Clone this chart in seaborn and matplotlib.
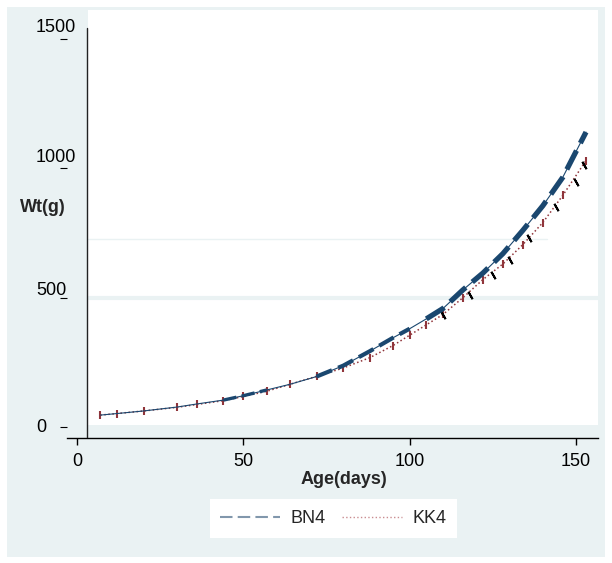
import numpy as np
import pandas as pd
import matplotlib
matplotlib.use("Agg")
import matplotlib.pyplot as plt
from matplotlib.lines import Line2D
from matplotlib.patches import Rectangle
import seaborn as sns

# values
age = [7, 12, 20, 30, 36, 44, 50, 57, 64, 72, 80, 88, 95, 100, 105, 110, 116, 122, 128, 134, 140, 146, 153]
bn4 = [46, 52, 62, 77, 89, 104, 121, 143, 165, 195, 237, 293, 345, 380, 418, 458, 530, 595, 670, 760, 855, 965, 1140]
kk4 = [46, 52, 62, 76, 87, 102, 118, 138, 165, 196, 228, 268, 315, 355, 395, 435, 500, 570, 630, 705, 790, 895, 1030]
mark_age = [110, 118, 125, 130, 136, 144, 150, 152.5]
mark_wt = [433, 510, 588, 646, 731, 851, 947, 1013]
xticks = [0, 50, 100, 150]
yticks = [0, 500, 1000, 1500]
ytick_labels = ["0", "500", "1000", "1500"]
series = ["BN4", "KK4"]

BG = "#EAF2F3"
NAVY = "#1A476F"
RED = "#90353B"
FS = 13

df = pd.DataFrame({"age": age, "BN4": bn4, "KK4": kk4})

sns.set_theme(style="white")
plt.rcParams["font.family"] = ["Liberation Sans", "DejaVu Sans"]

fig = plt.figure(figsize=(6.12, 5.63), dpi=100)
fig.patch.set_facecolor("white")
fig.patches.append(Rectangle((7 / 612, 6 / 563), 598 / 612, 550 / 563,
                             transform=fig.transFigure, facecolor=BG,
                             edgecolor="none", zorder=-10))

ax = fig.add_axes([67 / 612, 125 / 563, 531 / 612, 428 / 563])
ax.set_facecolor(BG)
ax.add_patch(Rectangle((21 / 531, 13 / 428), 510 / 531, 415 / 428,
                       transform=ax.transAxes, facecolor="white",
                       edgecolor="none", zorder=0.5))
ax.axhline(500, xmin=21 / 531, xmax=1, color=BG, lw=3, zorder=1)
ax.axhline(727, xmin=21 / 531, xmax=480 / 531, color=BG, lw=1, zorder=1)

# KK4
sns.lineplot(data=df, x="age", y="KK4", ax=ax, color=RED, lw=1.1,
             linestyle=":", marker="|", markersize=6,
             markeredgewidth=1.5, markeredgecolor=RED, zorder=3)
sns.lineplot(x=mark_age, y=mark_wt, ax=ax, color="black", linestyle="none",
             marker=(2, 2, 30), markersize=6, markeredgewidth=1.4,
             markeredgecolor="black", zorder=3)

# BN4, dashes thicker as the curve rises
sns.lineplot(data=df, x="age", y="BN4", ax=ax, color=NAVY, lw=0.8, zorder=4)
for i0, i1, w in [(5, 8, 2.4), (9, 14, 3.0), (14, 23, 3.8)]:
    sns.lineplot(data=df.iloc[i0:i1], x="age", y="BN4", ax=ax, color=NAVY,
                 lw=w, linestyle=(0, (4, 1.6)), dash_capstyle="butt", zorder=4)

ax.set_xlim(-3.0, 156.6)
ax.set_ylim(-42.5, 1612)
ax.set_xlabel("")
ax.set_ylabel("")

for s in ["top", "right", "left"]:
    ax.spines[s].set_visible(False)
ax.spines["bottom"].set_color("black")
ax.spines["bottom"].set_linewidth(1)
ax.axvline(3.0, ymin=0, ymax=410 / 428, color="#222222", lw=1, zorder=5)

ax.set_xticks(xticks)
ax.tick_params(axis="x", bottom=True, direction="out", length=5, width=1,
               color="black", labelsize=FS, pad=6, labelcolor="black")
ax.set_yticks(yticks)
ax.tick_params(axis="y", left=True, direction="out", length=5, width=0.8,
               color="black", labelleft=False)
for v, lab, off in zip(yticks, ytick_labels, [0, 5, 8, 8]):
    ax.annotate(lab, xy=(36, v), xycoords=("figure pixels", "data"),
                xytext=(0, off), textcoords="offset points",
                ha="left", va="center", fontsize=FS, color="black",
                annotation_clip=False)

fig.text(344 / 612, 1 - 480 / 563, "Age(days)", ha="center", va="center",
         fontsize=FS, fontweight="bold")
fig.text(20 / 612, 1 - 207 / 563, "Wt(g)", ha="left", va="center",
         fontsize=FS, fontweight="bold")

handles = [Line2D([], [], color="#8197AC", lw=1.5, linestyle=(0, (6, 2.5))),
           Line2D([], [], color="#C98C90", lw=1, linestyle=":")]
fig.legend(handles, series, loc="center",
           bbox_to_anchor=(333.5 / 612, 1 - 518.5 / 563), ncol=2,
           frameon=True, facecolor="white", edgecolor="none", fancybox=False,
           framealpha=1, fontsize=FS, handlelength=3.3, handletextpad=0.6,
           columnspacing=0.9, borderpad=0.6)

fig.savefig("out.png", dpi=100)
